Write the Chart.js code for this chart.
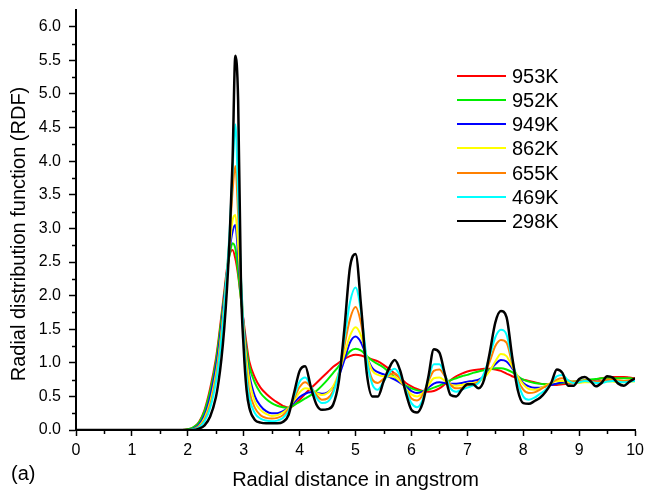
<!DOCTYPE html>
<html>
<head>
<meta charset="utf-8">
<script src="https://cdn.jsdelivr.net/npm/chart.js@4/dist/chart.umd.min.js"></script>
<style>
  html, body { margin: 0; padding: 0; background: #fff; }
  #wrap { position: relative; width: 649px; height: 492px; }
  #rdfLegend {
    position: absolute; left: 457px; top: 64px;
    font: 20px "Liberation Sans", Arial, sans-serif; color: #000;
  }
  .legend-item { display: flex; align-items: center; height: 24.15px; line-height: 24.15px; }
  .legend-line { width: 49px; height: 2px; margin-right: 6px; }
</style>
</head>
<body>
<div id="wrap">
  <canvas id="rdfChart" width="649" height="492"></canvas>
  <div id="rdfLegend"></div>
</div>
<script>
// ── Data ───────────────────────────────────────────────────
const RADIUS = [
  0, 0.5, 1.0, 1.5,
  1.8, 1.9, 2.0, 2.1, 2.2, 2.3, 2.4, 2.5,
  2.55, 2.6, 2.65, 2.7, 2.75, 2.8, 2.85, 2.9, 2.95, 3.0, 3.05, 3.1,
  3.2, 3.3, 3.4, 3.5, 3.6, 3.7, 3.8, 3.9, 4.0,
  4.1, 4.2, 4.3, 4.4, 4.5, 4.6, 4.7, 4.8, 4.9, 5.0,
  5.1, 5.2, 5.3, 5.4, 5.5, 5.6, 5.7, 5.8, 5.9, 6.0,
  6.1, 6.2, 6.3, 6.4, 6.5, 6.6, 6.7, 6.8, 6.9, 7.0,
  7.1, 7.2, 7.3, 7.4, 7.5, 7.6, 7.7, 7.8, 7.9, 8.0,
  8.1, 8.2, 8.3, 8.4, 8.5, 8.6, 8.7, 8.8, 8.9, 9.0,
  9.1, 9.2, 9.3, 9.4, 9.5, 9.6, 9.7, 9.8, 9.9, 10.0
];

const RDF_953K = [
  0, 0, 0, 0,
  0, 0, 0.01, 0.04, 0.12, 0.3, 0.62, 1.05,
  1.35, 1.7, 2.05, 2.4, 2.62, 2.68, 2.55, 2.3, 1.95, 1.6, 1.28, 1.02,
  0.78, 0.63, 0.54, 0.47, 0.41, 0.36, 0.33, 0.37, 0.45,
  0.54, 0.62, 0.7, 0.78, 0.86, 0.94, 1.0, 1.06, 1.1, 1.12,
  1.11, 1.08, 1.05, 1.02, 0.97, 0.91, 0.84, 0.77, 0.7, 0.65,
  0.61, 0.58, 0.57, 0.58, 0.62, 0.68, 0.74, 0.8, 0.84, 0.87,
  0.89, 0.9, 0.91, 0.91, 0.9, 0.88, 0.84, 0.8, 0.77, 0.75,
  0.73, 0.71, 0.69, 0.68, 0.67, 0.67, 0.68, 0.69, 0.7, 0.71,
  0.72, 0.73, 0.75, 0.77, 0.78, 0.79, 0.79, 0.79, 0.78, 0.77
];

const RDF_952K = [
  0, 0, 0, 0,
  0, 0, 0.01, 0.04, 0.11, 0.28, 0.58, 1.0,
  1.3, 1.65, 2.0, 2.35, 2.62, 2.78, 2.7, 2.35, 1.95, 1.55, 1.2, 0.95,
  0.7, 0.55, 0.46, 0.4, 0.36, 0.34, 0.33, 0.37, 0.42,
  0.47, 0.52, 0.58, 0.66, 0.75, 0.85, 0.95, 1.07, 1.17, 1.21,
  1.18, 1.1, 1.03, 0.98, 0.93, 0.86, 0.79, 0.72, 0.66, 0.62,
  0.59, 0.58, 0.6, 0.63, 0.66, 0.7, 0.74, 0.77, 0.8, 0.82,
  0.85, 0.87, 0.89, 0.9, 0.92, 0.92, 0.9, 0.86, 0.8, 0.75,
  0.72, 0.7, 0.69, 0.68, 0.68, 0.69, 0.7, 0.71, 0.72, 0.73,
  0.74, 0.75, 0.76, 0.77, 0.77, 0.77, 0.77, 0.77, 0.77, 0.76
];

const RDF_949K = [
  0, 0, 0, 0,
  0, 0, 0, 0.02, 0.08, 0.22, 0.5, 0.92,
  1.2, 1.55, 1.95, 2.35, 2.7, 2.95, 3.05, 2.6, 2.05, 1.55, 1.1, 0.82,
  0.5, 0.36, 0.28, 0.25, 0.25, 0.28, 0.33, 0.41, 0.49,
  0.54, 0.56, 0.55, 0.54, 0.56, 0.64, 0.8, 1.04, 1.3, 1.39,
  1.3, 1.09, 0.92, 0.86, 0.83, 0.79, 0.75, 0.7, 0.64, 0.58,
  0.55, 0.57, 0.63, 0.69, 0.71, 0.7, 0.69, 0.69, 0.7, 0.72,
  0.73, 0.75, 0.8, 0.89, 0.98, 1.04, 1.02, 0.92, 0.8, 0.7,
  0.65, 0.63, 0.63, 0.65, 0.67, 0.69, 0.71, 0.71, 0.71, 0.72,
  0.72, 0.72, 0.72, 0.73, 0.73, 0.73, 0.73, 0.73, 0.73, 0.73
];

const RDF_862K = [
  0, 0, 0, 0,
  0, 0, 0, 0.01, 0.06, 0.18, 0.42, 0.82,
  1.1, 1.45, 1.85, 2.3, 2.75, 3.12, 3.2, 2.75, 2.1, 1.5, 1.05, 0.75,
  0.42, 0.3, 0.24, 0.21, 0.22, 0.26, 0.33, 0.44, 0.56,
  0.62, 0.6, 0.55, 0.52, 0.55, 0.65, 0.85, 1.12, 1.4, 1.53,
  1.4, 1.1, 0.88, 0.82, 0.8, 0.8, 0.79, 0.72, 0.62, 0.53,
  0.5, 0.55, 0.66, 0.77, 0.78, 0.73, 0.68, 0.66, 0.67, 0.69,
  0.7, 0.72, 0.78, 0.88, 1.02, 1.13, 1.1, 0.95, 0.8, 0.68,
  0.61, 0.6, 0.62, 0.66, 0.7, 0.73, 0.73, 0.71, 0.7, 0.7,
  0.71, 0.71, 0.7, 0.71, 0.72, 0.72, 0.71, 0.71, 0.72, 0.72
];

const RDF_655K = [
  0, 0, 0, 0,
  0, 0, 0, 0.01, 0.05, 0.15, 0.37, 0.76,
  1.05, 1.42, 1.85, 2.35, 2.9, 3.55, 3.93, 3.2, 2.25, 1.45, 0.9, 0.58,
  0.33, 0.22, 0.18, 0.17, 0.18, 0.22, 0.31, 0.47, 0.64,
  0.71, 0.64, 0.52, 0.45, 0.47, 0.58, 0.85, 1.25, 1.65, 1.83,
  1.58, 1.05, 0.75, 0.7, 0.76, 0.82, 0.84, 0.76, 0.6, 0.47,
  0.44, 0.52, 0.72, 0.88, 0.9, 0.8, 0.67, 0.62, 0.63, 0.66,
  0.68, 0.72, 0.82, 1.02, 1.25, 1.34, 1.3, 1.0, 0.75, 0.6,
  0.55, 0.56, 0.6, 0.65, 0.7, 0.75, 0.77, 0.74, 0.72, 0.72,
  0.74, 0.73, 0.72, 0.73, 0.75, 0.75, 0.74, 0.73, 0.74, 0.75
];

const RDF_469K = [
  0, 0, 0, 0,
  0, 0, 0, 0.01, 0.04, 0.13, 0.33, 0.7,
  0.98, 1.35, 1.8, 2.35, 3.0, 3.85, 4.55, 3.5, 2.3, 1.4, 0.8, 0.48,
  0.25, 0.17, 0.14, 0.13, 0.14, 0.18, 0.28, 0.5, 0.72,
  0.78, 0.65, 0.48, 0.4, 0.42, 0.55, 0.85, 1.35, 1.9, 2.12,
  1.75, 1.05, 0.68, 0.6, 0.72, 0.85, 0.91, 0.8, 0.6, 0.4,
  0.34, 0.45, 0.75, 0.98, 0.98, 0.82, 0.62, 0.57, 0.6, 0.63,
  0.66, 0.7, 0.85, 1.1, 1.38, 1.49, 1.42, 1.05, 0.72, 0.5,
  0.45, 0.48, 0.54, 0.6, 0.7, 0.8, 0.82, 0.74, 0.7, 0.71,
  0.73, 0.72, 0.7, 0.7, 0.72, 0.73, 0.72, 0.71, 0.72, 0.73
];

const RDF_298K = [
  0, 0, 0, 0,
  0, 0, 0, 0, 0.02, 0.07, 0.2, 0.48,
  0.72, 1.05, 1.5, 2.1, 2.9, 4.0, 5.57, 4.9, 2.2, 1.2, 0.6, 0.33,
  0.15, 0.11, 0.1, 0.1, 0.1, 0.12, 0.22, 0.55, 0.88,
  0.95, 0.64, 0.38, 0.3, 0.31, 0.38, 0.72, 1.5, 2.42, 2.62,
  1.83, 0.85, 0.5, 0.5, 0.72, 0.92, 1.04, 0.88, 0.55, 0.3,
  0.26, 0.4, 0.78, 1.2, 1.15, 0.82, 0.52, 0.5, 0.6, 0.68,
  0.68, 0.62, 0.75, 1.15, 1.6, 1.77, 1.68, 1.1, 0.6, 0.4,
  0.39, 0.43, 0.48, 0.57, 0.7, 0.9, 0.85, 0.66, 0.66, 0.76,
  0.79, 0.73, 0.65, 0.7, 0.8, 0.78, 0.69, 0.66, 0.72, 0.77
];

const TEMPERATURES = ["953K", "952K", "949K", "862K", "655K", "469K", "298K"];
const SERIES       = [RDF_953K, RDF_952K, RDF_949K, RDF_862K, RDF_655K, RDF_469K, RDF_298K];

const X_TITLE = "Radial distance in angstrom";
const Y_TITLE = "Radial distribution function (RDF)";
const PANEL   = "(a)";

// ── Styles ──────────────────────────────────────────────────
const COLORS = ["#ff0000", "#00ee00", "#0000ff", "#ffff00", "#ff8000", "#00ffff", "#000000"];
const FONT   = '"Liberation Sans", Arial, Helvetica, sans-serif';

Chart.defaults.font.family = FONT;
Chart.defaults.color = "#000";

const isMajorY = (v) => Math.abs(v * 2 - Math.round(v * 2)) < 1e-6;
const isMajorX = (v) => Math.abs(v - Math.round(v)) < 1e-6;

// minor ticks, y title and panel letter
const extrasPlugin = {
  id: "extras",
  afterDraw(chart) {
    const { ctx, chartArea, scales: { x, y } } = chart;
    ctx.save();
    ctx.strokeStyle = "#000";
    ctx.lineWidth = 1.5;
    ctx.beginPath();
    for (let v = 0.25; v < 6.25; v += 0.5) {
      const py = Math.round(y.getPixelForValue(v)) + 0.5;
      ctx.moveTo(chartArea.left - 4, py);
      ctx.lineTo(chartArea.left, py);
    }
    for (let v = 0.5; v < 10; v += 1) {
      const px = Math.round(x.getPixelForValue(v)) + 0.5;
      ctx.moveTo(px, chartArea.bottom);
      ctx.lineTo(px, chartArea.bottom + 4);
    }
    ctx.stroke();

    ctx.fillStyle = "#000";
    ctx.font = `20px ${FONT}`;
    ctx.textBaseline = "middle";
    ctx.textAlign = "left";
    ctx.fillText(PANEL, 11, 474);

    ctx.translate(19, 234);
    ctx.rotate(-Math.PI / 2);
    ctx.textAlign = "center";
    ctx.fillText(Y_TITLE, 0, 0);
    ctx.restore();
  }
};

new Chart(document.getElementById("rdfChart"), {
  type: "line",
  data: {
    datasets: SERIES.map((vals, i) => ({
      label: TEMPERATURES[i],
      data: RADIUS.map((r, j) => ({ x: r, y: vals[j] })),
      borderColor: COLORS[i],
      borderWidth: i === SERIES.length - 1 ? 2.5 : 2,
      pointRadius: 0,
      fill: false,
      order: SERIES.length - i,
    })),
  },
  options: {
    responsive: false,
    animation: false,
    layout: { padding: { top: 10, right: 9, left: 0, bottom: 0 } },
    elements: { line: { cubicInterpolationMode: "monotone", borderJoinStyle: "round" } },
    plugins: { legend: { display: false }, tooltip: { enabled: false } },
    scales: {
      x: {
        type: "linear",
        min: 0,
        max: 10,
        afterFit: (s) => { s.height = 62; },
        border: { display: true, color: "#000", width: 2 },
        grid: {
          drawOnChartArea: false,
          tickLength: 6,
          tickWidth: 1.5,
          tickColor: (c) => (c.tick && isMajorX(c.tick.value) ? "#000" : "rgba(0,0,0,0)"),
        },
        ticks: {
          stepSize: 0.5,
          autoSkip: false,
          maxRotation: 0,
          padding: 5,
          color: "#000",
          font: { size: 16 },
          callback: (v) => (isMajorX(v) ? String(Math.round(v)) : ""),
        },
        title: {
          display: true,
          text: X_TITLE,
          color: "#000",
          font: { size: 20 },
          padding: { top: 0, bottom: 0 },
        },
      },
      y: {
        min: 0,
        max: 6.25,
        afterFit: (s) => { s.width = 76; s.paddingTop = 0; s.paddingBottom = 0; },
        border: { display: true, color: "#000", width: 2 },
        grid: {
          drawOnChartArea: false,
          tickLength: 7,
          tickWidth: 1.5,
          tickColor: (c) => (c.tick && isMajorY(c.tick.value) ? "#000" : "rgba(0,0,0,0)"),
        },
        ticks: {
          stepSize: 0.25,
          autoSkip: false,
          padding: 8,
          color: "#000",
          font: { size: 16 },
          callback: (v) => (isMajorY(v) ? v.toFixed(1) : ""),
        },
      },
    },
  },
  plugins: [extrasPlugin],
});

// ── Legend ──────────────────────────────────────────────────
document.getElementById("rdfLegend").innerHTML = TEMPERATURES.map((t, i) => `
  <div class="legend-item">
    <span class="legend-line" style="background:${COLORS[i]}"></span>${t}
  </div>`).join("");
</script>
</body>
</html>
